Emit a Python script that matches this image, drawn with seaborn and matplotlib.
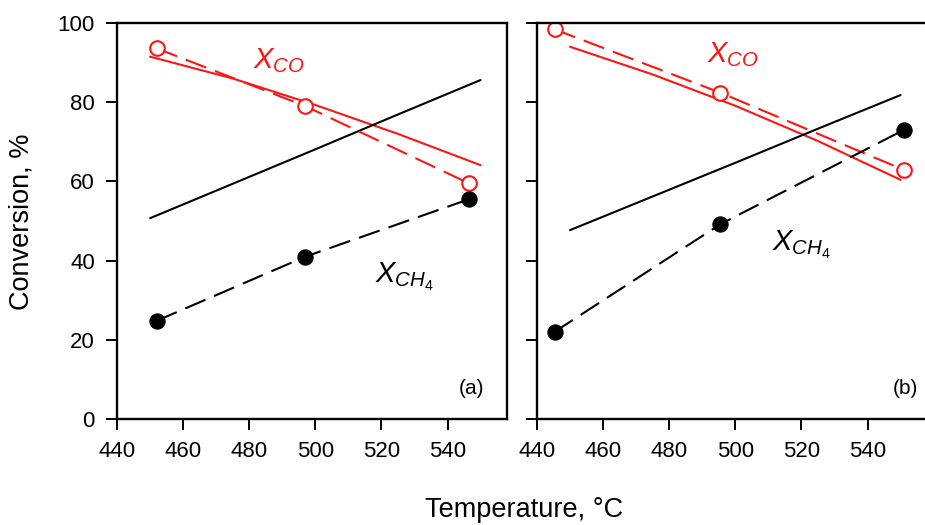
import matplotlib
matplotlib.use("Agg")
import matplotlib.pyplot as plt
import seaborn as sns

# panel (a) experimental points
temp_a = [452, 497, 546.5]
xco_a = [93.6, 79.0, 59.5]
xch4_a = [24.8, 41.0, 55.5]

# panel (b) experimental points
temp_b = [445.3, 495.5, 551]
xco_b = [98.4, 82.4, 62.9]
xch4_b = [22.0, 49.2, 73.0]

# model (equilibrium) curves
temp_fit = [450, 475, 500, 525, 550]
xco_fit_a = [91.5, 86.0, 79.3, 72.0, 64.1]
xch4_fit_a = [50.7, 59.4, 68.1, 76.9, 85.6]
xco_fit_b = [94.0, 87.0, 79.1, 70.2, 60.4]
xch4_fit_b = [47.7, 56.2, 64.7, 73.3, 81.8]

xticks = [440, 460, 480, 500, 520, 540]
yticks = [0, 20, 40, 60, 80, 100]

sns.set_style("ticks")
plt.rcParams['font.family'] = ['Liberation Sans', 'DejaVu Sans']
plt.rcParams['mathtext.fontset'] = 'custom'
plt.rcParams['mathtext.it'] = 'Liberation Sans:italic'
plt.rcParams['mathtext.rm'] = 'Liberation Sans'

RED = '#ff1414'
DASH = (0, (10.5, 4.5))

fig = plt.figure(figsize=(9.25, 5.25), dpi=100)
ax_a = fig.add_axes([117 / 925, 1 - 419 / 525, 390 / 925, 396 / 525])
ax_b = fig.add_axes([537 / 925, 1 - 419 / 525, 390 / 925, 396 / 525])

panels = [
    (ax_a, temp_a, xco_a, xch4_a, xco_fit_a, xch4_fit_a, '(a)', 0.91, (481, 88.5), (518, 34.5)),
    (ax_b, temp_b, xco_b, xch4_b, xco_fit_b, xch4_fit_b, '(b)', 0.945, (491.5, 90), (511, 42.5)),
]

for ax, t, xco, xch4, fco, fch4, tag, tx, pos_co, pos_ch4 in panels:
    sns.lineplot(x=temp_fit, y=fco, ax=ax, color=RED, lw=1.5)
    sns.lineplot(x=temp_fit, y=fch4, ax=ax, color='black', lw=1.5)
    sns.lineplot(x=t, y=xco, ax=ax, color=RED, lw=1.5, linestyle=DASH,
                 marker='o', markersize=10.5, markerfacecolor='white',
                 markeredgecolor=RED, markeredgewidth=1.5)
    sns.lineplot(x=t, y=xch4, ax=ax, color='black', lw=1.5, linestyle=DASH,
                 marker='o', markersize=11, markerfacecolor='black',
                 markeredgecolor='black')
    ax.text(*pos_co, r'$X_{CO}$', color=RED, fontsize=21)
    ax.text(*pos_ch4, r'$X_{CH_4}$', color='black', fontsize=21)
    ax.text(tx, 0.078, tag, transform=ax.transAxes, fontsize=15,
            ha='center', va='center', color='black')
    ax.set_xlim(440, 558)
    ax.set_ylim(0, 100)
    ax.set_xticks(xticks)
    ax.set_yticks(yticks)
    ax.tick_params(direction='out', length=8, width=1.4, pad=8, labelsize=16,
                   colors='black')
    for sp in ax.spines.values():
        sp.set_linewidth(1.7)
        sp.set_color('black')
    ax.set_xlabel('')
    ax.set_ylabel('')

ax_b.tick_params(axis='y', labelleft=False)
fig.text(22 / 925, 1 - 222 / 525, 'Conversion, %', rotation=90,
         ha='center', va='center', fontsize=19.5, color='black')
fig.text(524 / 925, 8 / 525, 'Temperature, °C', ha='center', va='baseline',
         fontsize=19.5, color='black')

fig.savefig('out.png', dpi=100)
